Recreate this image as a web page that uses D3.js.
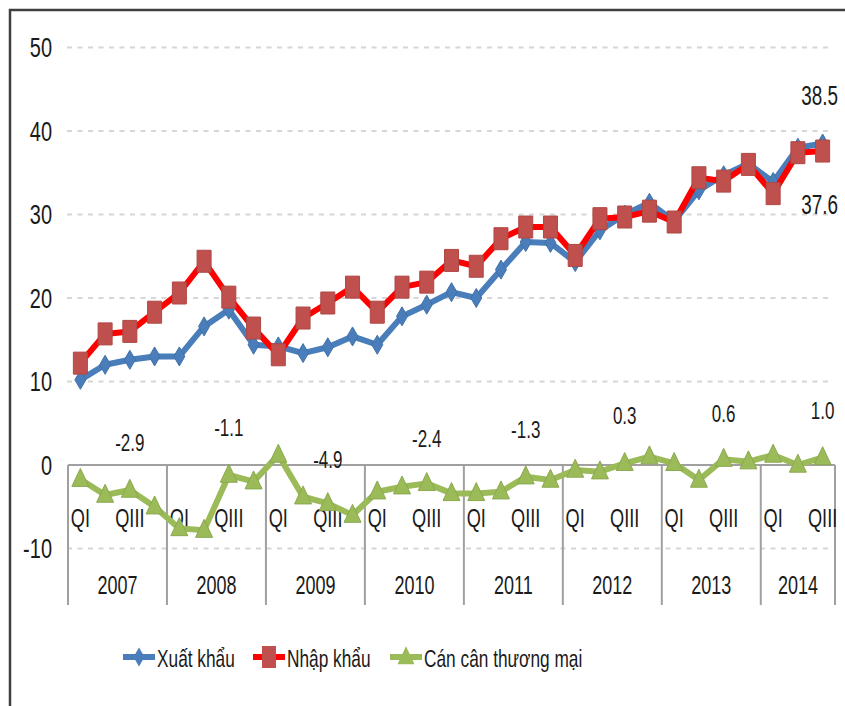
<!DOCTYPE html>
<html>
<head>
<meta charset="utf-8">
<script src="https://cdn.jsdelivr.net/npm/d3@7"></script>
<style>
  body { margin: 0; background: #fff; }
  text { font-family: "Liberation Sans", Arial, sans-serif; fill: #1a1a1a; }
</style>
</head>
<body>
<div id="my_dataviz"></div>
<script>
// categories
var years = ["2007", "2008", "2009", "2010", "2011", "2012", "2013", "2014"];
var quartersPerYear = [4, 4, 4, 4, 4, 4, 4, 3];
var quarterLabels = ["QI", "", "QIII", ""];
var yTicks = [-10, 0, 10, 20, 30, 40, 50];

// series (quarterly, 2007 QI .. 2014 QIII)
var xuatKhau = [10.2, 12.0, 12.6, 13.0, 13.0, 16.6, 18.6, 14.4, 14.2, 13.4, 14.1, 15.4, 14.4, 17.8, 19.2, 20.7,
                20.0, 23.4, 26.7, 26.6, 24.3, 28.1, 30.0, 31.4, 29.2, 32.9, 34.7, 36.1, 33.9, 38.0, 38.5];
var nhapKhau = [12.2, 15.7, 16.0, 18.3, 20.6, 24.4, 20.1, 16.4, 13.2, 17.6, 19.4, 21.3, 18.3, 21.3, 21.9, 24.5,
                23.8, 27.1, 28.5, 28.5, 25.1, 29.5, 29.7, 30.4, 29.1, 34.4, 34.0, 36.0, 32.5, 37.4, 37.6];
var canCan = [-1.7, -3.6, -3.0, -5.0, -7.6, -7.8, -1.2, -2.0, 1.2, -3.8, -4.6, -6.0, -3.2, -2.6, -2.2, -3.4,
              -3.4, -3.2, -1.4, -1.8, -0.6, -0.8, 0.2, 1.0, 0.2, -1.8, 0.7, 0.4, 1.2, 0.0, 0.9];
// yearly trade balance
var canCanNam = [-2.9, -1.1, -4.9, -2.4, -1.3, 0.3, 0.6, 1.0];

var seriesNames = ["Xuất khẩu", "Nhập khẩu", "Cán cân thương mại"];

// build the period list
var periods = [];
years.forEach(function(y, yi) {
    for (var q = 0; q < quartersPerYear[yi]; q++) {
        periods.push({ i: periods.length, year: y, yi: yi, q: q });
    }
});

var width = 845, height = 706;
var left = 68, right = 835;

var svg = d3.select("#my_dataviz")
    .append("svg")
    .attr("width", width)
    .attr("height", height);

var x = d3.scaleBand()
    .domain(periods.map(function(d) { return d.i; }))
    .range([left, right])
    .padding(0);
var cx = function(i) { return x(i) + x.bandwidth() / 2; };

var y = d3.scaleLinear()
    .domain([-10, 50])
    .range([548.5, 47.5]);

// outer frame (top + left)
svg.append("path")
    .attr("d", "M10,706V10H845")
    .attr("fill", "none")
    .attr("stroke", "#404040")
    .attr("stroke-width", 2.5);

// grid lines
svg.append("g")
    .selectAll("line")
    .data(yTicks.filter(function(d) { return d != 0; }))
    .enter()
    .append("line")
    .attr("x1", left - 1)
    .attr("x2", right - 2)
    .attr("y1", function(d) { return y(d); })
    .attr("y2", function(d) { return y(d); })
    .attr("stroke", "#d6d6d6")
    .attr("stroke-width", 2)
    .attr("stroke-dasharray", "5,5.5");

// y axis labels
var yAxis = svg.append("g")
    .attr("transform", "translate(52,0)")
    .call(d3.axisLeft(y).tickValues(yTicks).tickSize(0).tickPadding(0)
        .tickFormat(function(d) { return String(d); }));
yAxis.select(".domain").remove();
yAxis.selectAll("text")
    .attr("font-family", "Liberation Sans, Arial, sans-serif")
    .attr("font-size", 27)
    .attr("fill", "#1a1a1a")
    .attr("dy", "0.34em")
    .attr("transform", "scale(0.74,1)");

// category axis at zero
svg.append("line")
    .attr("x1", left).attr("x2", right)
    .attr("y1", y(0)).attr("y2", y(0))
    .attr("stroke", "#a0a0a0")
    .attr("stroke-width", 2);

// year separators
var bounds = [0];
var acc = 0;
quartersPerYear.forEach(function(n) { acc += n; bounds.push(acc); });
svg.append("g")
    .selectAll("line")
    .data(bounds)
    .enter()
    .append("line")
    .attr("x1", function(d) { return d < periods.length ? x(d) : right; })
    .attr("x2", function(d) { return d < periods.length ? x(d) : right; })
    .attr("y1", y(0))
    .attr("y2", 605)
    .attr("stroke", "#a0a0a0")
    .attr("stroke-width", 2);

// quarter labels
svg.append("g")
    .selectAll("text")
    .data(periods.filter(function(d) { return quarterLabels[d.q] != ""; }))
    .enter()
    .append("text")
    .attr("text-anchor", "middle")
    .attr("transform", function(d) { return "translate(" + cx(d.i) + ",527) scale(0.7,1)"; })
    .attr("font-size", 26)
    .text(function(d) { return quarterLabels[d.q]; });

// year labels
svg.append("g")
    .selectAll("text")
    .data(years)
    .enter()
    .append("text")
    .attr("text-anchor", "middle")
    .attr("transform", function(d, i) {
        var mid = (x(bounds[i]) + (bounds[i + 1] < periods.length ? x(bounds[i + 1]) : right)) / 2;
        return "translate(" + mid + ",594) scale(0.72,1)";
    })
    .attr("font-size", 25)
    .text(function(d) { return d; });

// markers
function diamond(w, h) { return "M0," + (-h / 2) + "L" + (w / 2) + ",0L0," + (h / 2) + "L" + (-w / 2) + ",0Z"; }
function square(w, h) { return "M" + (-w / 2) + "," + (-h / 2) + "h" + w + "v" + h + "h" + (-w) + "Z"; }
function triangle(w, h) { return "M0," + (-h * 0.6) + "L" + (w / 2) + "," + (h * 0.4) + "L" + (-w / 2) + "," + (h * 0.4) + "Z"; }

var series = [
    { name: seriesNames[0], values: xuatKhau, line: "#4a7ebb", mark: "#4a7ebb", shape: diamond(11, 19) },
    { name: seriesNames[1], values: nhapKhau, line: "#ff0000", mark: "#c0504d", shape: square(14, 22) },
    { name: seriesNames[2], values: canCan, line: "#9bbb59", mark: "#9bbb59", shape: triangle(17, 18) }
];

var line = d3.line()
    .x(function(d, i) { return cx(i); })
    .y(function(d) { return y(d); });

series.forEach(function(s) {
    svg.append("path")
        .datum(s.values)
        .attr("fill", "none")
        .attr("stroke", s.line)
        .attr("stroke-width", 6)
        .attr("stroke-linejoin", "round")
        .attr("d", line);
    svg.append("g")
        .selectAll("path")
        .data(s.values)
        .enter()
        .append("path")
        .attr("d", s.shape)
        .attr("transform", function(d, i) { return "translate(" + cx(i) + "," + y(d) + ")"; })
        .attr("fill", s.mark)
        .attr("stroke", d3.color(s.mark).darker(0.3))
        .attr("stroke-width", 1);
});

// yearly balance labels, above each year's QIII
svg.append("g")
    .selectAll("text")
    .data(canCanNam)
    .enter()
    .append("text")
    .attr("text-anchor", "middle")
    .attr("transform", function(d, i) {
        return "translate(" + cx(bounds[i] + 2) + "," + (y(d) - 38) + ") scale(0.74,1)";
    })
    .attr("font-size", 23)
    .text(function(d) { return d.toFixed(1); });

// last value labels
var last = periods.length - 1;
svg.append("text")
    .attr("text-anchor", "end")
    .attr("transform", "translate(838," + (y(xuatKhau[last]) - 38.5) + ") scale(0.7,1)")
    .attr("font-size", 27)
    .text(xuatKhau[last].toFixed(1));
svg.append("text")
    .attr("text-anchor", "end")
    .attr("transform", "translate(838," + (y(nhapKhau[last]) + 63) + ") scale(0.7,1)")
    .attr("font-size", 27)
    .text(nhapKhau[last].toFixed(1));

// legend
var legendX = [123, 253, 390];
var legend = svg.append("g")
    .selectAll("g")
    .data(series)
    .enter()
    .append("g")
    .attr("transform", function(d, i) { return "translate(" + legendX[i] + ",657)"; });
legend.append("line")
    .attr("x1", 0).attr("x2", 32)
    .attr("y1", 0).attr("y2", 0)
    .attr("stroke", function(d) { return d.line; })
    .attr("stroke-width", 6);
legend.append("path")
    .attr("d", function(d) { return d.shape; })
    .attr("transform", "translate(16,0)")
    .attr("fill", function(d) { return d.mark; });
legend.append("text")
    .attr("transform", "translate(34,10) scale(0.72,1)")
    .attr("font-size", 24)
    .text(function(d) { return d.name; });
</script>
</body>
</html>
